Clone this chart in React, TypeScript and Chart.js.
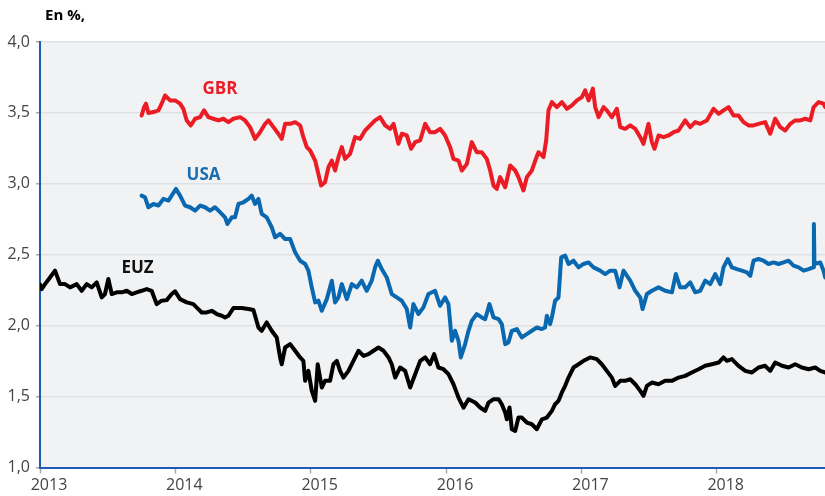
import React, { useEffect, useRef } from "react";
import { Chart, registerables } from "chart.js";

Chart.register(...registerables);

// ---- Data ----
const yearTicks = [2013, 2014, 2015, 2016, 2017, 2018];
const valueTicks = [1, 1.5, 2, 2.5, 3, 3.5, 4];
const unitTitle = "En %,";

const gbrDates = [
  2013.751, 2013.769, 2013.783, 2013.801, 2013.838, 2013.875, 2013.899, 2013.924, 2013.961, 2013.998,
  2014.035, 2014.059, 2014.084, 2014.114, 2014.146, 2014.183, 2014.212, 2014.244, 2014.281, 2014.318,
  2014.355, 2014.392, 2014.429, 2014.478, 2014.515, 2014.552, 2014.589, 2014.626, 2014.663, 2014.688,
  2014.725, 2014.761, 2014.786, 2014.811, 2014.848, 2014.885, 2014.922, 2014.946, 2014.971, 2014.996,
  2015.033, 2015.057, 2015.077, 2015.106, 2015.131, 2015.156, 2015.180, 2015.205, 2015.230, 2015.254,
  2015.291, 2015.328, 2015.365, 2015.402, 2015.439, 2015.476, 2015.513, 2015.550, 2015.587, 2015.612,
  2015.648, 2015.673, 2015.710, 2015.742, 2015.772, 2015.809, 2015.846, 2015.882, 2015.919, 2015.956,
  2015.993, 2016.030, 2016.055, 2016.092, 2016.117, 2016.154, 2016.190, 2016.227, 2016.264, 2016.301,
  2016.326, 2016.351, 2016.375, 2016.400, 2016.437, 2016.474, 2016.511, 2016.535, 2016.572, 2016.597,
  2016.634, 2016.659, 2016.683, 2016.720, 2016.740, 2016.757, 2016.782, 2016.819, 2016.856, 2016.893,
  2016.930, 2016.967, 2017.004, 2017.028, 2017.053, 2017.085, 2017.102, 2017.127, 2017.164, 2017.188,
  2017.225, 2017.262, 2017.287, 2017.324, 2017.361, 2017.398, 2017.435, 2017.459, 2017.496, 2017.521,
  2017.540, 2017.570, 2017.607, 2017.644, 2017.681, 2017.718, 2017.767, 2017.804, 2017.841, 2017.878,
  2017.927, 2017.977, 2018.014, 2018.050, 2018.087, 2018.124, 2018.161, 2018.198, 2018.235, 2018.272,
  2018.309, 2018.358, 2018.395, 2018.432, 2018.469, 2018.506, 2018.543, 2018.580, 2018.617, 2018.654,
  2018.691, 2018.716, 2018.753, 2018.789, 2018.802,
];
const gbrValues = [
  3.482, 3.541, 3.565, 3.499, 3.506, 3.518, 3.565, 3.623, 3.588, 3.588,
  3.565, 3.529, 3.447, 3.412, 3.459, 3.470, 3.518, 3.470, 3.459, 3.447,
  3.459, 3.435, 3.459, 3.470, 3.447, 3.400, 3.317, 3.364, 3.423, 3.447,
  3.400, 3.353, 3.317, 3.423, 3.423, 3.435, 3.412, 3.329, 3.259, 3.235,
  3.164, 3.070, 2.988, 3.011, 3.117, 3.164, 3.094, 3.188, 3.259, 3.176,
  3.211, 3.329, 3.317, 3.376, 3.412, 3.447, 3.470, 3.412, 3.388, 3.423,
  3.282, 3.353, 3.341, 3.247, 3.294, 3.306, 3.423, 3.364, 3.364, 3.388,
  3.341, 3.259, 3.176, 3.164, 3.094, 3.141, 3.294, 3.223, 3.223, 3.176,
  3.094, 2.988, 2.964, 3.047, 2.976, 3.129, 3.094, 3.047, 2.953, 3.047,
  3.094, 3.164, 3.223, 3.188, 3.306, 3.518, 3.576, 3.541, 3.576, 3.529,
  3.553, 3.588, 3.612, 3.659, 3.588, 3.671, 3.541, 3.470, 3.541, 3.518,
  3.470, 3.529, 3.400, 3.388, 3.412, 3.388, 3.329, 3.282, 3.423, 3.294,
  3.247, 3.341, 3.329, 3.341, 3.364, 3.376, 3.447, 3.400, 3.435, 3.423,
  3.447, 3.529, 3.494, 3.518, 3.541, 3.482, 3.482, 3.435, 3.412, 3.412,
  3.423, 3.435, 3.353, 3.459, 3.400, 3.376, 3.423, 3.447, 3.447, 3.459,
  3.447, 3.541, 3.576, 3.565, 3.541,
];

const usaDates = [
  2013.751, 2013.776, 2013.801, 2013.838, 2013.875, 2013.912, 2013.949, 2013.973, 2014.005, 2014.035,
  2014.072, 2014.109, 2014.146, 2014.183, 2014.220, 2014.256, 2014.293, 2014.330, 2014.367, 2014.385,
  2014.417, 2014.441, 2014.466, 2014.503, 2014.540, 2014.564, 2014.589, 2014.614, 2014.638, 2014.675,
  2014.712, 2014.737, 2014.774, 2014.811, 2014.848, 2014.885, 2014.922, 2014.959, 2014.983, 2015.008,
  2015.033, 2015.057, 2015.082, 2015.119, 2015.156, 2015.180, 2015.205, 2015.230, 2015.267, 2015.304,
  2015.341, 2015.377, 2015.414, 2015.451, 2015.476, 2015.496, 2015.525, 2015.562, 2015.599, 2015.636,
  2015.673, 2015.710, 2015.735, 2015.759, 2015.796, 2015.833, 2015.870, 2015.919, 2015.956, 2015.993,
  2016.018, 2016.043, 2016.067, 2016.092, 2016.109, 2016.141, 2016.166, 2016.190, 2016.227, 2016.264,
  2016.289, 2016.321, 2016.351, 2016.388, 2016.412, 2016.437, 2016.461, 2016.486, 2016.523, 2016.560,
  2016.597, 2016.634, 2016.671, 2016.708, 2016.732, 2016.745, 2016.769, 2016.782, 2016.806, 2016.831,
  2016.851, 2016.880, 2016.905, 2016.942, 2016.979, 2017.016, 2017.053, 2017.090, 2017.139, 2017.176,
  2017.213, 2017.250, 2017.282, 2017.311, 2017.361, 2017.398, 2017.435, 2017.452, 2017.484, 2017.521,
  2017.570, 2017.619, 2017.669, 2017.698, 2017.730, 2017.767, 2017.804, 2017.841, 2017.878, 2017.915,
  2017.952, 2017.989, 2018.026, 2018.050, 2018.082, 2018.112, 2018.149, 2018.186, 2018.223, 2018.248,
  2018.272, 2018.309, 2018.346, 2018.383, 2018.420, 2018.457, 2018.494, 2018.531, 2018.568, 2018.605,
  2018.642, 2018.679, 2018.714, 2018.718, 2018.722, 2018.765, 2018.789, 2018.802,
];
const usaValues = [
  2.917, 2.905, 2.835, 2.858, 2.847, 2.894, 2.882, 2.917, 2.964, 2.917,
  2.847, 2.835, 2.811, 2.847, 2.835, 2.811, 2.835, 2.800, 2.764, 2.717,
  2.764, 2.764, 2.858, 2.870, 2.894, 2.917, 2.858, 2.894, 2.788, 2.764,
  2.694, 2.623, 2.647, 2.611, 2.611, 2.517, 2.458, 2.435, 2.388, 2.270,
  2.164, 2.176, 2.105, 2.187, 2.317, 2.164, 2.199, 2.293, 2.187, 2.293,
  2.270, 2.317, 2.246, 2.317, 2.411, 2.458, 2.399, 2.340, 2.223, 2.199,
  2.176, 2.117, 1.987, 2.152, 2.082, 2.129, 2.223, 2.246, 2.140, 2.199,
  2.152, 1.893, 1.964, 1.893, 1.776, 1.870, 1.964, 2.034, 2.082, 2.058,
  2.046, 2.152, 2.058, 2.046, 2.011, 1.870, 1.881, 1.964, 1.976, 1.917,
  1.940, 1.964, 1.987, 1.976, 1.987, 2.070, 2.011, 2.058, 2.176, 2.199,
  2.482, 2.494, 2.435, 2.458, 2.411, 2.435, 2.446, 2.411, 2.388, 2.364,
  2.388, 2.388, 2.270, 2.388, 2.317, 2.246, 2.199, 2.117, 2.223, 2.246,
  2.270, 2.246, 2.235, 2.364, 2.270, 2.270, 2.305, 2.235, 2.246, 2.317,
  2.293, 2.364, 2.293, 2.411, 2.470, 2.411, 2.399, 2.388, 2.376, 2.352,
  2.458, 2.470, 2.458, 2.435, 2.446, 2.435, 2.446, 2.458, 2.423, 2.411,
  2.388, 2.399, 2.411, 2.717, 2.435, 2.446, 2.388, 2.340,
];

const euzDates = [
  2013.000, 2013.012, 2013.037, 2013.074, 2013.111, 2013.148, 2013.185, 2013.222, 2013.271, 2013.308,
  2013.345, 2013.382, 2013.419, 2013.456, 2013.480, 2013.505, 2013.530, 2013.567, 2013.604, 2013.641,
  2013.678, 2013.714, 2013.751, 2013.788, 2013.825, 2013.862, 2013.899, 2013.936, 2013.973, 2013.998,
  2014.035, 2014.084, 2014.133, 2014.170, 2014.195, 2014.232, 2014.269, 2014.306, 2014.343, 2014.367,
  2014.392, 2014.429, 2014.490, 2014.540, 2014.577, 2014.614, 2014.638, 2014.675, 2014.712, 2014.749,
  2014.774, 2014.786, 2014.811, 2014.848, 2014.885, 2014.922, 2014.946, 2014.959, 2014.983, 2015.008,
  2015.033, 2015.052, 2015.082, 2015.106, 2015.143, 2015.168, 2015.193, 2015.217, 2015.242, 2015.279,
  2015.316, 2015.353, 2015.390, 2015.427, 2015.464, 2015.501, 2015.538, 2015.575, 2015.599, 2015.624,
  2015.661, 2015.698, 2015.735, 2015.772, 2015.809, 2015.846, 2015.882, 2015.912, 2015.944, 2015.981,
  2016.018, 2016.055, 2016.092, 2016.129, 2016.166, 2016.215, 2016.252, 2016.289, 2016.314, 2016.351,
  2016.388, 2016.412, 2016.437, 2016.449, 2016.469, 2016.486, 2016.511, 2016.535, 2016.560, 2016.597,
  2016.634, 2016.671, 2016.708, 2016.745, 2016.782, 2016.806, 2016.831, 2016.856, 2016.880, 2016.905,
  2016.942, 2016.979, 2017.016, 2017.065, 2017.114, 2017.151, 2017.188, 2017.225, 2017.250, 2017.287,
  2017.324, 2017.361, 2017.398, 2017.435, 2017.459, 2017.484, 2017.521, 2017.570, 2017.619, 2017.669,
  2017.718, 2017.767, 2017.816, 2017.866, 2017.915, 2017.964, 2018.014, 2018.050, 2018.075, 2018.112,
  2018.161, 2018.211, 2018.260, 2018.309, 2018.358, 2018.395, 2018.432, 2018.482, 2018.531, 2018.580,
  2018.629, 2018.679, 2018.728, 2018.765, 2018.802,
];
const euzValues = [
  2.290, 2.258, 2.293, 2.340, 2.388, 2.293, 2.293, 2.270, 2.293, 2.246,
  2.293, 2.270, 2.305, 2.199, 2.223, 2.329, 2.223, 2.235, 2.235, 2.246,
  2.223, 2.235, 2.246, 2.258, 2.246, 2.152, 2.176, 2.180, 2.223, 2.242,
  2.187, 2.164, 2.152, 2.117, 2.093, 2.093, 2.105, 2.082, 2.070, 2.058,
  2.070, 2.124, 2.124, 2.117, 2.110, 1.987, 1.964, 2.023, 1.964, 1.917,
  1.776, 1.728, 1.846, 1.870, 1.823, 1.776, 1.752, 1.611, 1.681, 1.540,
  1.470, 1.728, 1.564, 1.611, 1.611, 1.728, 1.752, 1.681, 1.634, 1.681,
  1.752, 1.823, 1.787, 1.799, 1.823, 1.846, 1.823, 1.776, 1.728, 1.634,
  1.705, 1.681, 1.564, 1.658, 1.752, 1.776, 1.728, 1.799, 1.705, 1.693,
  1.658, 1.587, 1.493, 1.422, 1.481, 1.458, 1.423, 1.399, 1.458, 1.482,
  1.482, 1.446, 1.387, 1.340, 1.423, 1.270, 1.258, 1.352, 1.352, 1.317,
  1.305, 1.270, 1.340, 1.352, 1.399, 1.446, 1.470, 1.529, 1.576, 1.634,
  1.705, 1.728, 1.752, 1.776, 1.764, 1.728, 1.681, 1.634, 1.575, 1.611,
  1.611, 1.622, 1.587, 1.540, 1.505, 1.575, 1.599, 1.587, 1.611, 1.611,
  1.634, 1.646, 1.670, 1.693, 1.717, 1.728, 1.740, 1.776, 1.752, 1.764,
  1.717, 1.681, 1.670, 1.705, 1.717, 1.681, 1.740, 1.717, 1.705, 1.728,
  1.705, 1.693, 1.705, 1.681, 1.670,
];

const FONT = '"Open Sans", "Noto Sans", sans-serif';
const AXIS_BLUE = "#1d5cb4";

const toPoints = (dates: number[], values: number[]) =>
  dates.map((d, i) => ({ x: d, y: values[i] }));

const decorPlugin = {
  id: "decor",
  beforeDraw(chart: any) {
    const { ctx, chartArea: a } = chart;
    ctx.save();
    ctx.fillStyle = "#f1f2f4";
    ctx.fillRect(a.left, a.top, a.right - a.left, a.bottom - a.top);
    ctx.restore();
  },
  afterDraw(chart: any, _args: any, opts: any) {
    const { ctx, chartArea: a } = chart;
    const xs = chart.scales.x;
    const ys = chart.scales.y;
    ctx.save();
    ctx.font = `bold 15px ${FONT}`;
    ctx.fillStyle = "#000";
    ctx.textAlign = "left";
    ctx.textBaseline = "alphabetic";
    ctx.fillText(opts.title, a.left + 5, 20);
    ctx.font = `bold 17px ${FONT}`;
    ctx.textAlign = "center";
    ctx.textBaseline = "middle";
    for (const l of opts.labels) {
      ctx.fillStyle = l.color;
      ctx.fillText(l.text, xs.getPixelForValue(l.x), ys.getPixelForValue(l.y));
    }
    ctx.restore();
  },
};

const lineStyle = {
  borderWidth: 4,
  pointRadius: 0,
  tension: 0,
  fill: false,
  borderJoinStyle: "round",
  borderCapStyle: "round",
};

export default function App() {
  const ref = useRef<HTMLCanvasElement | null>(null);

  useEffect(() => {
    document.body.style.margin = "0";
    if (!ref.current) return;
    const chart = new Chart(ref.current, {
      type: "line",
      data: {
        datasets: [
          { label: "GBR", data: toPoints(gbrDates, gbrValues), borderColor: "#ec1c24", ...lineStyle },
          { label: "USA", data: toPoints(usaDates, usaValues), borderColor: "#0a68b0", ...lineStyle },
          { label: "EUZ", data: toPoints(euzDates, euzValues), borderColor: "#000000", ...lineStyle },
        ],
      },
      options: {
        animation: false,
        responsive: false,
        devicePixelRatio: 1,
        layout: { padding: { top: 42, right: 0, bottom: 0, left: 0 } },
        plugins: {
          legend: { display: false },
          tooltip: { enabled: false },
          decor: {
            title: unitTitle,
            labels: [
              { text: "GBR", color: "#ec1c24", x: 2014.33, y: 3.67 },
              { text: "USA", color: "#1a6db0", x: 2014.208, y: 3.059 },
              { text: "EUZ", color: "#111111", x: 2013.721, y: 2.405 },
            ],
          },
        } as any,
        scales: {
          x: {
            type: "linear",
            min: 2013,
            max: 2018.8,
            afterBuildTicks: (s: any) => {
              s.ticks = yearTicks.map((v) => ({ value: v }));
            },
            afterFit: (s: any) => {
              s.height = 28.5;
            },
            ticks: {
              callback: (v: any) => String(v),
              labelOffset: 9,
              padding: 2,
              maxRotation: 0,
              autoSkip: false,
              color: "#444444",
              font: { family: FONT, size: 16 },
            },
            grid: {
              drawOnChartArea: false,
              drawTicks: true,
              tickLength: 6,
              tickColor: "#a8a8a8",
              tickWidth: 1.5,
            },
            border: { display: true, color: AXIS_BLUE, width: 2 },
          },
          y: {
            type: "linear",
            min: 1,
            max: 4,
            afterBuildTicks: (s: any) => {
              s.ticks = valueTicks.map((v) => ({ value: v }));
            },
            afterFit: (s: any) => {
              s.width = 40;
            },
            ticks: {
              callback: (v: any) => Number(v).toFixed(1).replace(".", ","),
              padding: 6,
              color: "#444444",
              font: { family: FONT, size: 16 },
            },
            grid: {
              color: "#dfe1e4",
              lineWidth: 1.5,
              drawTicks: true,
              tickLength: 4,
              tickColor: "#a8a8a8",
            },
            border: { display: true, color: AXIS_BLUE, width: 2 },
          },
        },
      },
      plugins: [decorPlugin],
    } as any);
    return () => chart.destroy();
  }, []);

  return (
    <div style={{ width: 825, height: 496, background: "#ffffff" }}>
      <canvas ref={ref} width={825} height={496} style={{ display: "block" }} />
    </div>
  );
}
